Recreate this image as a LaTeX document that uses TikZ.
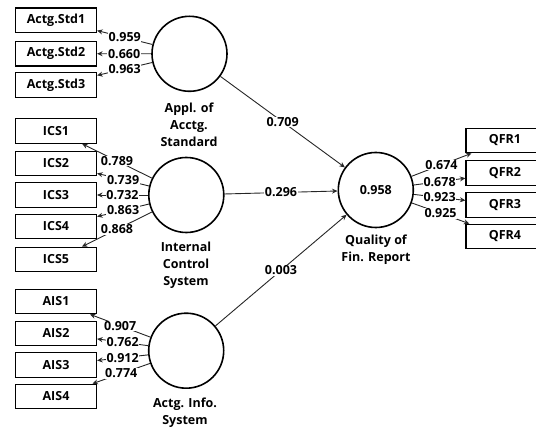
\documentclass[tikz,border=0pt]{standalone}
\usepackage{fontspec}
\setmainfont{Open Sans}
\usetikzlibrary{arrows.meta}
\begin{document}
\begin{tikzpicture}[x=1pt,y=-1pt,
  font=\bfseries\fontsize{12.5}{17}\selectfont,
  ind/.style={draw=black,line width=1.2pt,minimum width=81pt,minimum height=24.5pt,inner sep=0pt},
  indr/.style={ind,minimum width=78pt},
  lv/.style={draw=black,line width=1.6pt,circle,minimum size=75pt,inner sep=0pt},
  lvname/.style={align=center,inner sep=0pt},
  arr/.style={draw=black!85,line width=0.9pt,-{Stealth[length=5.5pt,width=5pt]}},
  lbl/.style={fill=white,inner sep=0.6pt,pos=0.5}]
\clip (0,0) rectangle (536,427);
% latent variables
\node[lv] (A) at (189.5,53.8) {};
\node[lv] (I) at (186.3,195) {};
\node[lv] (S) at (186.2,350.7) {};
\node[lv] (Q) at (375.8,190) {0.958};
% latent names
\node[lvname] (An) at (189,125) {Appl. of\\Acctg.\\Standard};
\node[lvname] (In) at (186,265) {Internal\\Control\\System};
\node[lvname] (Sn) at (185,412.5) {Actg. Info.\\System};
\node[lvname] (Qn) at (376,249.5) {Quality of\\Fin. Report};
% indicators
\node[ind] (a1) at (56,20.3) {Actg.Std1};
\node[ind] (a2) at (56,53.7) {Actg.Std2};
\node[ind] (a3) at (56,85) {Actg.Std3};
\node[ind] (c1) at (56,131) {ICS1};
\node[ind] (c2) at (56,163.5) {ICS2};
\node[ind] (c3) at (56,195) {ICS3};
\node[ind] (c4) at (56,226.5) {ICS4};
\node[ind] (c5) at (56,259.5) {ICS5};
\node[ind] (s1) at (56,301.5) {AIS1};
\node[ind] (s2) at (56,333.5) {AIS2};
\node[ind] (s3) at (56,365) {AIS3};
\node[ind] (s4) at (56,396.5) {AIS4};
\node[indr] (q1) at (505,140.5) {QFR1};
\node[indr] (q2) at (505,173) {QFR2};
\node[indr] (q3) at (505,205) {QFR3};
\node[indr] (q4) at (505,236.5) {QFR4};
% outer loadings
\draw[arr] (A) -- node[lbl] (la1) {0.959} (a1);
\draw[arr] (A) -- node[lbl] (la2) {0.660} (a2);
\draw[arr] (A) -- node[lbl] (la3) {0.963} (a3);
\draw[arr] (I) -- node[lbl] (lc1) {0.789} (c1);
\draw[arr] (I) -- node[lbl] (lc2) {0.739} (c2);
\draw[arr] (I) -- node[lbl] (lc3) {0.732} (c3);
\draw[arr] (I) -- node[lbl] (lc4) {0.863} (c4);
\draw[arr] (I) -- node[lbl] (lc5) {0.868} (c5);
\draw[arr] (S) -- node[lbl] (ls1) {0.907} (s1);
\draw[arr] (S) -- node[lbl] (ls2) {0.762} (s2);
\draw[arr] (S) -- node[lbl] (ls3) {0.912} (s3);
\draw[arr] (S) -- node[lbl] (ls4) {0.774} (s4);
\draw[arr] (Q) -- node[lbl] (lq1) {0.674} (q1);
\draw[arr] (Q) -- node[lbl] (lq2) {0.678} (q2);
\draw[arr] (Q) -- node[lbl] (lq3) {0.923} (q3);
\draw[arr] (Q) -- node[lbl] (lq4) {0.925} (q4);
% path coefficients
\draw[arr] (A) -- node[lbl] (pA) {0.709} (Q);
\draw[arr] (I) -- node[lbl] (pI) {0.296} (Q);
\draw[arr] (S) -- node[lbl] (pS) {0.003} (Q);
\end{tikzpicture}
\end{document}
